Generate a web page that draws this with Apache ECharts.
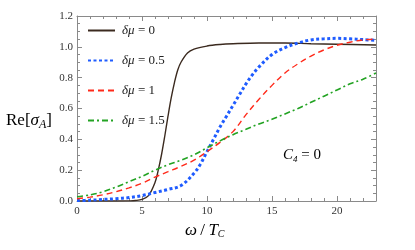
<!DOCTYPE html>
<html><head><meta charset="utf-8">
<script src="https://cdn.jsdelivr.net/npm/echarts@6/dist/echarts.min.js"></script>
<style>html,body{margin:0;padding:0;background:#fff}#c{width:415px;height:250px}</style>
</head><body><div id="c"></div>
<script>
var legendNames = ['0', '0.5', '1', '1.5'];
var xTicks = [0, 5, 10, 15, 20];
var yTicks = [0.0, 0.2, 0.4, 0.6, 0.8, 1.0, 1.2];

var x0 = [0, 1, 2, 3, 4, 4.5, 5, 5.5, 6, 6.25, 6.5, 6.75, 7, 7.25, 7.5, 7.75, 8, 8.5, 9, 10, 11, 12, 14, 16, 18, 20, 23];
var y0 = [0, 0, 0, 0, 0.001, 0.003, 0.01, 0.035, 0.12, 0.2, 0.3, 0.42, 0.55, 0.67, 0.77, 0.85, 0.9, 0.96, 0.985, 1.005, 1.015, 1.02, 1.025, 1.025, 1.02, 1.017, 1.012];

var x05 = [0, 1, 2, 3, 4, 5, 6, 7, 8, 9, 9.5, 10, 10.5, 11, 11.5, 12, 12.5, 13, 13.5, 14, 15, 16, 17, 18, 19, 20, 21, 22, 23];
var y05 = [0.003, 0.005, 0.01, 0.015, 0.022, 0.035, 0.055, 0.075, 0.1, 0.18, 0.24, 0.32, 0.4, 0.48, 0.55, 0.62, 0.69, 0.76, 0.82, 0.87, 0.95, 0.995, 1.025, 1.045, 1.052, 1.055, 1.052, 1.047, 1.042];

var x1 = [0, 1, 2, 3, 4, 5, 6, 7, 8, 9, 10, 11, 12, 13, 14, 15, 16, 17, 18, 19, 20, 21, 22, 23];
var y1 = [0.015, 0.025, 0.04, 0.06, 0.085, 0.115, 0.155, 0.19, 0.225, 0.265, 0.32, 0.38, 0.45, 0.56, 0.66, 0.75, 0.83, 0.89, 0.94, 0.98, 1.01, 1.03, 1.045, 1.05];

var x15 = [0, 1, 2, 3, 4, 5, 6, 7, 8, 9, 10, 11, 12, 13, 14, 15, 16, 17, 18, 19, 20, 21, 22, 23];
var y15 = [0.028, 0.04, 0.06, 0.09, 0.125, 0.16, 0.2, 0.235, 0.265, 0.3, 0.345, 0.39, 0.43, 0.465, 0.5, 0.53, 0.565, 0.6, 0.64, 0.68, 0.72, 0.76, 0.79, 0.83];

function pairs(xs, ys) { return xs.map(function (x, i) { return [x, ys[i]]; }); }

var serif = 'Liberation Serif';
var axisCol = '#8a8a8a';
var chart = echarts.init(document.getElementById('c'), null, {renderer: 'canvas'});

function mkX(pos, showLabel) {
  return {
    type: 'value', position: pos, min: 0, max: 23, interval: 5,
    axisLine: {show: true, onZero: false, lineStyle: {color: axisCol, width: 1}},
    axisTick: {show: true, inside: true, length: 5, lineStyle: {color: axisCol}},
    minorTick: {show: true, splitNumber: 5, length: 3, lineStyle: {color: axisCol}},
    axisLabel: {show: showLabel, showMaxLabel: false, fontFamily: serif, fontSize: 11, color: '#333', margin: 5},
    splitLine: {show: false}, minorSplitLine: {show: false}
  };
}
function mkY(pos, showLabel) {
  return {
    type: 'value', position: pos, min: 0, max: 1.2, interval: 0.2,
    axisLine: {show: true, onZero: false, lineStyle: {color: axisCol, width: 1}},
    axisTick: {show: true, inside: true, length: 5, lineStyle: {color: axisCol}},
    minorTick: {show: true, splitNumber: 4, length: 3, lineStyle: {color: axisCol}},
    axisLabel: {show: showLabel, fontFamily: serif, fontSize: 11, color: '#333', margin: 4,
      formatter: function (v) { return v.toFixed(1); }},
    splitLine: {show: false}, minorSplitLine: {show: false}
  };
}

var richLeg = {i: {fontFamily: serif, fontStyle: 'italic', fontSize: 13, color: '#222'},
               n: {fontFamily: serif, fontSize: 13, color: '#222'}};

function ser(name, data, color, width, type) {
  return {
    name: name, type: 'line', data: data, smooth: 0.35, showSymbol: false, symbol: 'none', symbolSize: 0,
    lineStyle: {color: color, width: width, type: type}, itemStyle: {color: color},
    xAxisIndex: 0, yAxisIndex: 0, z: 3
  };
}

chart.setOption({
  animation: false,
  backgroundColor: '#fff',
  grid: {left: 77, right: 39, top: 16, bottom: 49, containLabel: false},
  xAxis: [mkX('bottom', true), mkX('top', false)],
  yAxis: [mkY('left', true), mkY('right', false)],
  legend: {
    show: true, orient: 'vertical', left: 82, top: 19, itemWidth: 27, itemHeight: 14, itemGap: 17,
    itemStyle: {opacity: 0},
    data: legendNames.map(function (n) { return 'δμ = ' + n; }),
    formatter: function (name) { return '{i|δμ} {n|' + name.slice(3) + '}'; },
    textStyle: {rich: richLeg, padding: [0, 0, 0, 2]}
  },
  series: [
    ser('δμ = ' + legendNames[0], pairs(x0, y0), '#3b2a1f', 1.4, 'solid'),
    ser('δμ = ' + legendNames[1], pairs(x05, y05), '#1f5cff', 3, [3, 2.5]),
    ser('δμ = ' + legendNames[2], pairs(x1, y1), '#ff2a1a', 1.4, [6, 4]),
    ser('δμ = ' + legendNames[3], pairs(x15, y15), '#23a323', 1.6, [6, 3, 2, 3])
  ],
  graphic: [
    {type: 'text', left: 6, top: 112, style: {
      text: '{n|Re[}{s|σ}{a|A}{n|]}', rich: {
        n: {fontFamily: serif, fontSize: 17, color: '#111'},
        s: {fontFamily: serif, fontSize: 17, fontStyle: 'italic', color: '#111'},
        a: {fontFamily: serif, fontSize: 12, fontStyle: 'italic', color: '#111', verticalAlign: 'bottom', padding: [8, 0, 0, 0]}
      }}},
    {type: 'text', left: 185, top: 222, style: {
      text: '{w|ω} {n|/} {t|T}{c|C}', rich: {
        w: {fontFamily: serif, fontSize: 17, fontStyle: 'italic', color: '#111'},
        n: {fontFamily: serif, fontSize: 17, color: '#111'},
        t: {fontFamily: serif, fontSize: 17, fontStyle: 'italic', color: '#111'},
        c: {fontFamily: serif, fontSize: 10, fontStyle: 'italic', color: '#111', padding: [8, 0, 0, 0]}
      }}},
    {type: 'text', left: 283, top: 148, style: {
      text: '{c|C}{s|4}{n| = 0}', rich: {
        c: {fontFamily: serif, fontSize: 15, fontStyle: 'italic', color: '#111'},
        s: {fontFamily: serif, fontSize: 9, fontStyle: 'italic', color: '#111', padding: [8, 0, 0, 0]},
        n: {fontFamily: serif, fontSize: 15, color: '#111'}
      }}}
  ]
});
</script></body></html>
